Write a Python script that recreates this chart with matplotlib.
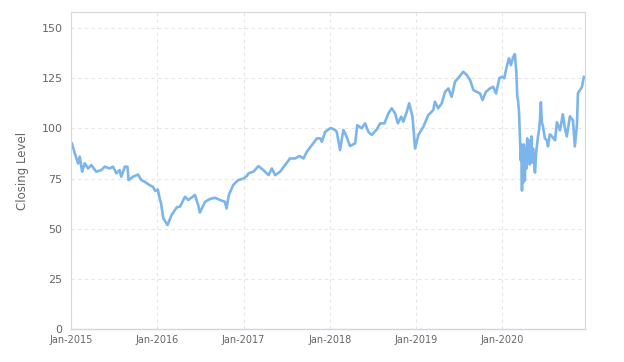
import matplotlib
matplotlib.use('Agg')
import matplotlib.pyplot as plt
import matplotlib.dates as mdates
import pandas as pd

# Closing level
dates = [
    '2015-01-01', '2015-01-05', '2015-01-17', '2015-01-31', '2015-02-07', '2015-02-17', '2015-02-28',
    '2015-03-14', '2015-03-28', '2015-04-18', '2015-05-09', '2015-05-24', '2015-06-14', '2015-06-28',
    '2015-07-12', '2015-07-26', '2015-08-02', '2015-08-17', '2015-08-28', '2015-09-02', '2015-09-21',
    '2015-10-12', '2015-10-26', '2015-11-09', '2015-11-30', '2015-12-14', '2015-12-24',
    '2016-01-04', '2016-01-13', '2016-01-17', '2016-01-27', '2016-02-05', '2016-02-14', '2016-03-02',
    '2016-03-24', '2016-04-07', '2016-04-28', '2016-05-12', '2016-05-26', '2016-06-09', '2016-06-23',
    '2016-06-30', '2016-07-22', '2016-08-12', '2016-09-02', '2016-09-23', '2016-10-14', '2016-10-21',
    '2016-10-31', '2016-11-18', '2016-12-09',
    '2017-01-01', '2017-01-15', '2017-01-22', '2017-02-12', '2017-03-05', '2017-03-26', '2017-04-17',
    '2017-05-01', '2017-05-15', '2017-06-05', '2017-06-26', '2017-07-17', '2017-08-08', '2017-08-26',
    '2017-09-12', '2017-09-26', '2017-10-18', '2017-11-08', '2017-11-22', '2017-11-29', '2017-12-13',
    '2018-01-03', '2018-01-10', '2018-01-24', '2018-01-31', '2018-02-14', '2018-02-28', '2018-03-14',
    '2018-03-28', '2018-04-19', '2018-04-28', '2018-05-17', '2018-05-31', '2018-06-14', '2018-06-28',
    '2018-07-20', '2018-08-03', '2018-08-21', '2018-09-07', '2018-09-21', '2018-10-05', '2018-10-17',
    '2018-10-31', '2018-11-09', '2018-11-24', '2018-12-04', '2018-12-18', '2018-12-29',
    '2019-01-12', '2019-02-02', '2019-02-23', '2019-03-16', '2019-03-23', '2019-04-06', '2019-04-21',
    '2019-05-05', '2019-05-19', '2019-06-02', '2019-06-16', '2019-07-04', '2019-07-21', '2019-08-05',
    '2019-08-19', '2019-09-02', '2019-09-16', '2019-09-30', '2019-10-11', '2019-10-25', '2019-11-11',
    '2019-11-25', '2019-12-07', '2019-12-21',
    '2020-01-01', '2020-01-11', '2020-01-21', '2020-01-31', '2020-02-08', '2020-02-18', '2020-02-25',
    '2020-03-02', '2020-03-06', '2020-03-09', '2020-03-13', '2020-03-17', '2020-03-21', '2020-03-23',
    '2020-03-26', '2020-03-28', '2020-03-31', '2020-04-03', '2020-04-07', '2020-04-10', '2020-04-14',
    '2020-04-17', '2020-04-20', '2020-04-24', '2020-04-28', '2020-05-01', '2020-05-05', '2020-05-07',
    '2020-05-12', '2020-05-15', '2020-05-20', '2020-05-25', '2020-06-02', '2020-06-06', '2020-06-10',
    '2020-06-14', '2020-06-18', '2020-06-23', '2020-07-01', '2020-07-10', '2020-07-14', '2020-07-22',
    '2020-07-31', '2020-08-13', '2020-08-21', '2020-09-03', '2020-09-15', '2020-09-24', '2020-10-02',
    '2020-10-15', '2020-10-28', '2020-11-05', '2020-11-14', '2020-11-18', '2020-11-26', '2020-12-05',
    '2020-12-13',
]
closing = [
    93.0, 92.5, 87.5, 82.5, 85.9, 78.4, 82.6,
    80.0, 81.7, 78.4, 79.2, 80.9, 80.0, 80.9,
    77.6, 79.2, 75.9, 80.9, 80.9, 74.2, 75.9,
    77.0, 74.2, 73.4, 71.7, 70.9, 68.8,
    69.5, 64.3, 63.0, 55.2, 53.5, 51.8, 56.8,
    60.6, 61.0, 65.9, 64.3, 65.5, 66.8, 61.8,
    58.0, 63.4, 64.8, 65.4, 64.3, 63.4, 60.1,
    66.8, 71.7, 74.2,
    75.0, 76.2, 77.6, 78.4, 81.2, 79.2, 76.7,
    80.0, 76.7, 78.4, 81.7, 85.0, 85.0, 86.2,
    85.0, 88.3, 91.7, 95.0, 95.0, 93.3, 98.3,
    100.0, 100.0, 99.2, 98.3, 89.2, 99.2, 95.8,
    91.2, 92.5, 101.6, 100.0, 102.5, 98.3, 96.7,
    99.5, 102.5, 102.5, 107.5, 110.0, 107.5, 102.5,
    105.8, 103.3, 108.3, 112.5, 105.8, 90.0,
    96.7, 100.8, 106.6, 109.1, 113.3, 110.0, 112.5,
    118.2, 119.9, 115.7, 123.2, 125.7, 128.2, 126.6,
    124.1, 119.1, 118.2, 117.4, 114.1, 118.2, 119.9,
    120.7, 117.4, 125.0,
    125.7, 125.0, 130.6, 134.9, 131.5, 135.7, 137.0,
    128.0, 116.0, 114.0, 109.0, 96.0, 84.0, 92.0,
    69.0, 88.0, 73.0, 92.0, 74.0, 90.0, 80.0,
    95.0, 85.0, 94.0, 82.0, 90.0, 96.0, 83.0,
    90.0, 84.0, 78.0, 88.0, 96.0, 99.0, 104.0,
    113.0, 103.0, 101.0, 95.0, 94.0, 91.0, 97.0,
    96.0, 94.0, 103.0, 99.0, 107.0, 100.0, 96.0,
    106.0, 104.0, 91.0, 102.0, 117.5, 119.0, 120.6,
    125.6,
]
y_ticks = [0, 25, 50, 75, 100, 125, 150]
x_tick_years = ['2015', '2016', '2017', '2018', '2019', '2020']

x = pd.to_datetime(dates)

fig = plt.figure(figsize=(6.24, 3.62), dpi=100)
ax = fig.add_axes([0.1138, 0.0912, 0.8237, 0.8757])

ax.plot(x, closing, color='#7cb5ec', linewidth=1.9)

ax.set_xlim(pd.Timestamp('2015-01-01'), pd.Timestamp('2020-12-18'))
ax.set_ylim(0, 158)
ax.set_yticks(y_ticks)
ax.set_xticks(pd.to_datetime([y + '-01-01' for y in x_tick_years]))
ax.xaxis.set_major_formatter(mdates.DateFormatter('%b-%Y'))

ax.grid(True, color='#e6e6e6', linestyle=(0, (3, 3)), linewidth=0.8)
ax.set_axisbelow(True)
for side in ['top', 'right', 'left']:
    ax.spines[side].set_color('#d8d8d8')
    ax.spines[side].set_linewidth(0.8)
ax.spines['bottom'].set_color('#ccd6eb')
ax.spines['bottom'].set_linewidth(1)

ax.tick_params(axis='y', length=0, labelsize=8, labelcolor='#666666', pad=6)
ax.tick_params(axis='x', length=0, labelsize=7, labelcolor='#666666', pad=4)
ax.set_ylabel('Closing Level', fontsize=8.5, color='#666666', labelpad=9)

fig.savefig('out.png', dpi=100)
